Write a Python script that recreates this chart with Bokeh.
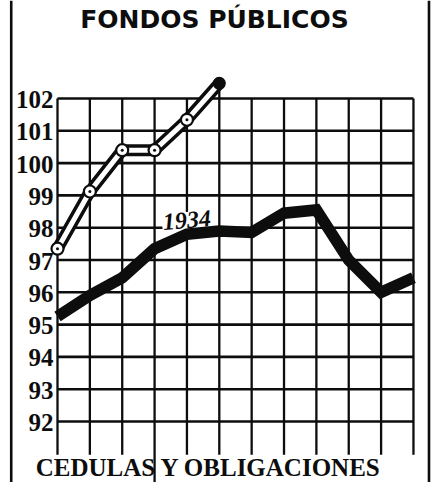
from bokeh.plotting import figure
from bokeh.models import Range1d, Span
from bokeh.core.properties import value
from bokeh.embed import file_html
from bokeh.resources import INLINE

# ---- data ----
months = ["Ene", "Feb", "Mar", "Abr", "May", "Jun",
          "Jul", "Ago", "Sep", "Oct", "Nov", "Dic"]
cedulas_1934 = [95.25, 95.9, 96.45, 97.35, 97.8, 97.9,
                97.85, 98.45, 98.55, 97.0, 96.0, 96.45]
cedulas_1935 = [97.35, 99.12, 100.4, 100.4, 101.34, 102.47]
y_ticks = [92, 93, 94, 95, 96, 97, 98, 99, 100, 101, 102]
y_tick_labels = ["92", "93", "94", "95", "96", "97", "98", "99", "100", "101", "102"]
title_top = "FONDOS PÚBLICOS"
title_bottom = "CEDULAS Y OBLIGACIONES"
series_label = "1934"

W, H = 433, 482
PX_X, PX_Y = 32.36, 32.3          # pixels per month / per point
x_idx = list(range(len(months)))
y_min = 102 - (H - 98) / PX_Y

p = figure(width=W, height=H, output_backend="svg", toolbar_location=None,
           x_range=Range1d(-57 / PX_X, (W - 57) / PX_X),
           y_range=Range1d(y_min, 102 + 98 / PX_Y),
           min_border=0)
p.axis.visible = False
p.xgrid.visible = False
p.ygrid.visible = False
p.outline_line_color = None
p.background_fill_color = "white"
p.border_fill_color = "white"

ink = "#0d0d0d"

# outer frame lines
for loc in (-1.43, 11.48):
    p.add_layout(Span(location=loc, dimension="height", line_color=ink, line_width=2.6))

# horizontal grid lines
p.segment(x0=[x_idx[0]] * len(y_ticks), x1=[x_idx[-1]] * len(y_ticks),
          y0=y_ticks, y1=y_ticks, line_color=ink, line_width=2.6)

# vertical grid lines
grid_bottom = y_ticks[0] - 1.03
v_top = [y_ticks[-1]] * len(x_idx)
v_top[len(cedulas_1935) - 1] = cedulas_1935[-1]
v_bot = [grid_bottom] * len(x_idx)
v_bot[3] = y_min
p.segment(x0=x_idx, x1=x_idx, y0=v_bot, y1=v_top, line_color=ink, line_width=2.3)

# y tick labels
p.text(x=[x_idx[0]] * len(y_ticks), y=y_ticks, text=y_tick_labels,
       text_align="right", text_baseline="alphabetic", x_offset=-4, y_offset=1,
       text_font=value("Liberation Sans Narrow"), text_font_style="bold",
       text_font_size="25px", text_color=ink)

# "1934" label
p.text(x=[4.0], y=[98.22], text=[series_label], text_align="center",
       text_baseline="middle", angle=0.08,
       text_font=value("Liberation Sans Narrow"), text_font_style="bold italic",
       text_font_size="24px", text_color=ink,
       background_fill_color="white", padding=1)

# 1934 thick line
p.line(x_idx, cedulas_1934, line_color=ink, line_width=11.5, line_join="miter")

# 1935 hollow "tube" line
xs35 = x_idx[:len(cedulas_1935)]
p.line(xs35, cedulas_1935, line_color=ink, line_width=12, line_join="round", line_cap="round")
p.line(xs35, cedulas_1935, line_color="white", line_width=5, line_join="round")
p.scatter(xs35[:-1], cedulas_1935[:-1], size=12, fill_color="white", line_color=ink, line_width=2.2)
p.scatter(xs35[:-1], cedulas_1935[:-1], size=3, fill_color=ink, line_color=None)
p.scatter([xs35[-1]], [cedulas_1935[-1]], size=13, fill_color=ink, line_color=None)

# titles
p.text(x=[4.85], y=[102 + (98 - 19) / PX_Y], text=[title_top], text_align="center",
       text_baseline="middle",
       text_font=value("DejaVu Sans"), text_font_style="bold",
       text_font_size="25px", text_color=ink)
p.text(x=[4.67], y=[102 - (480 - 98) / PX_Y], text=[title_bottom], text_align="center",
       text_baseline="bottom",
       text_font=value("Liberation Sans Narrow"), text_font_style="bold",
       text_font_size="25px", text_color=ink)

open("out.html", "w").write(file_html(p, INLINE))
